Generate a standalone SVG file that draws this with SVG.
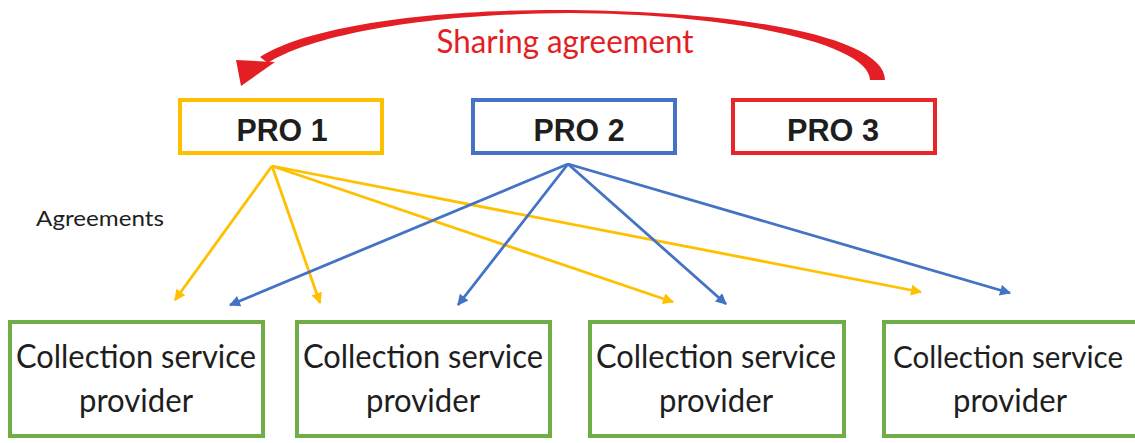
<svg xmlns="http://www.w3.org/2000/svg" width="1135" height="443" viewBox="0 0 1135 443">
<defs>
<style>
.pro{fill:#fff;stroke-width:4}
.csp{fill:#fff;stroke:#70AD47;stroke-width:4}
.pt{font-family:"Liberation Sans",Arial,sans-serif;font-weight:bold;font-size:32px;fill:#1e1e1e;text-anchor:middle}
.ct{font-family:Lato,"Open Sans",sans-serif;font-size:32px;fill:#1e1e1e;text-anchor:middle}
.ly{fill:none;stroke:#FFC000;stroke-width:2.8}
.lb{fill:none;stroke:#4472C4;stroke-width:2.8}
</style>
<marker id="ay" viewBox="0 0 10 10" refX="9" refY="5" markerWidth="13" markerHeight="11" markerUnits="userSpaceOnUse" orient="auto"><path d="M0,0 L10,5 L0,10 z" fill="#FFC000"/></marker>
<marker id="ab" viewBox="0 0 10 10" refX="9" refY="5" markerWidth="13" markerHeight="11" markerUnits="userSpaceOnUse" orient="auto"><path d="M0,0 L10,5 L0,10 z" fill="#4472C4"/></marker>
</defs>
<rect width="1135" height="443" fill="#fff"/>

<g id="sharing">
<path d="M885,80 C885,40 760,12 570,10 C420,9 305,28 260,57 L268,63 C310,36 420,14 570,13 C740,14 870,45 870,80 Z" fill="#E31E24"/>
<path d="M236,60 L241,86 L275,62 Z" fill="#E31E24"/>
<text x="565" y="53" font-family="Lato,'Open Sans',sans-serif" font-size="33" fill="#E31E24" text-anchor="middle" textLength="257" lengthAdjust="spacingAndGlyphs">Sharing agreement</text>
</g>

<g id="pro1"><rect class="pro" x="180" y="100" width="202" height="53" stroke="#FFC000"/><text class="pt" x="282" y="141" textLength="91" lengthAdjust="spacingAndGlyphs">PRO 1</text></g>
<g id="pro2"><rect class="pro" x="473" y="100" width="202" height="53" stroke="#4472C4"/><text class="pt" x="579" y="141" textLength="91" lengthAdjust="spacingAndGlyphs">PRO 2</text></g>
<g id="pro3"><rect class="pro" x="733" y="100" width="202" height="53" stroke="#E8262A"/><text class="pt" x="833" y="141" textLength="92" lengthAdjust="spacingAndGlyphs">PRO 3</text></g>

<text id="agreements" x="36" y="226" font-family="Lato,'Open Sans',sans-serif" font-size="22" fill="#1e1e1e" textLength="128" lengthAdjust="spacingAndGlyphs">Agreements</text>

<g id="connectors">
<path class="ly" d="M272,166 L175,300" marker-end="url(#ay)"/>
<path class="ly" d="M272,166 L320,303" marker-end="url(#ay)"/>
<path class="ly" d="M272,166 L673,302" marker-end="url(#ay)"/>
<path class="ly" d="M272,166 L921,292" marker-end="url(#ay)"/>
<path class="lb" d="M568,164 L230,305" marker-end="url(#ab)"/>
<path class="lb" d="M568,164 L458,305" marker-end="url(#ab)"/>
<path class="lb" d="M568,164 L726,304" marker-end="url(#ab)"/>
<path class="lb" d="M568,164 L1010,293" marker-end="url(#ab)"/>
</g>

<g id="csp1"><rect class="csp" x="10" y="322" width="253" height="114"/><text class="ct" x="136" y="368" textLength="240" lengthAdjust="spacingAndGlyphs">Collection service</text><text class="ct" x="136" y="412" textLength="114" lengthAdjust="spacingAndGlyphs">provider</text></g>
<g id="csp2"><rect class="csp" x="297" y="322" width="253" height="114"/><text class="ct" x="423" y="368" textLength="240" lengthAdjust="spacingAndGlyphs">Collection service</text><text class="ct" x="423" y="412" textLength="114" lengthAdjust="spacingAndGlyphs">provider</text></g>
<g id="csp3"><rect class="csp" x="590" y="322" width="254" height="114"/><text class="ct" x="716" y="368" textLength="240" lengthAdjust="spacingAndGlyphs">Collection service</text><text class="ct" x="716" y="412" textLength="114" lengthAdjust="spacingAndGlyphs">provider</text></g>
<g id="csp4"><rect class="csp" x="884" y="322" width="262" height="114"/><text class="ct" x="1008" y="368" font-size="30" textLength="230" lengthAdjust="spacingAndGlyphs" style="font-size:30px">Collection service</text><text class="ct" x="1010" y="412" textLength="114" lengthAdjust="spacingAndGlyphs">provider</text></g>
</svg>
